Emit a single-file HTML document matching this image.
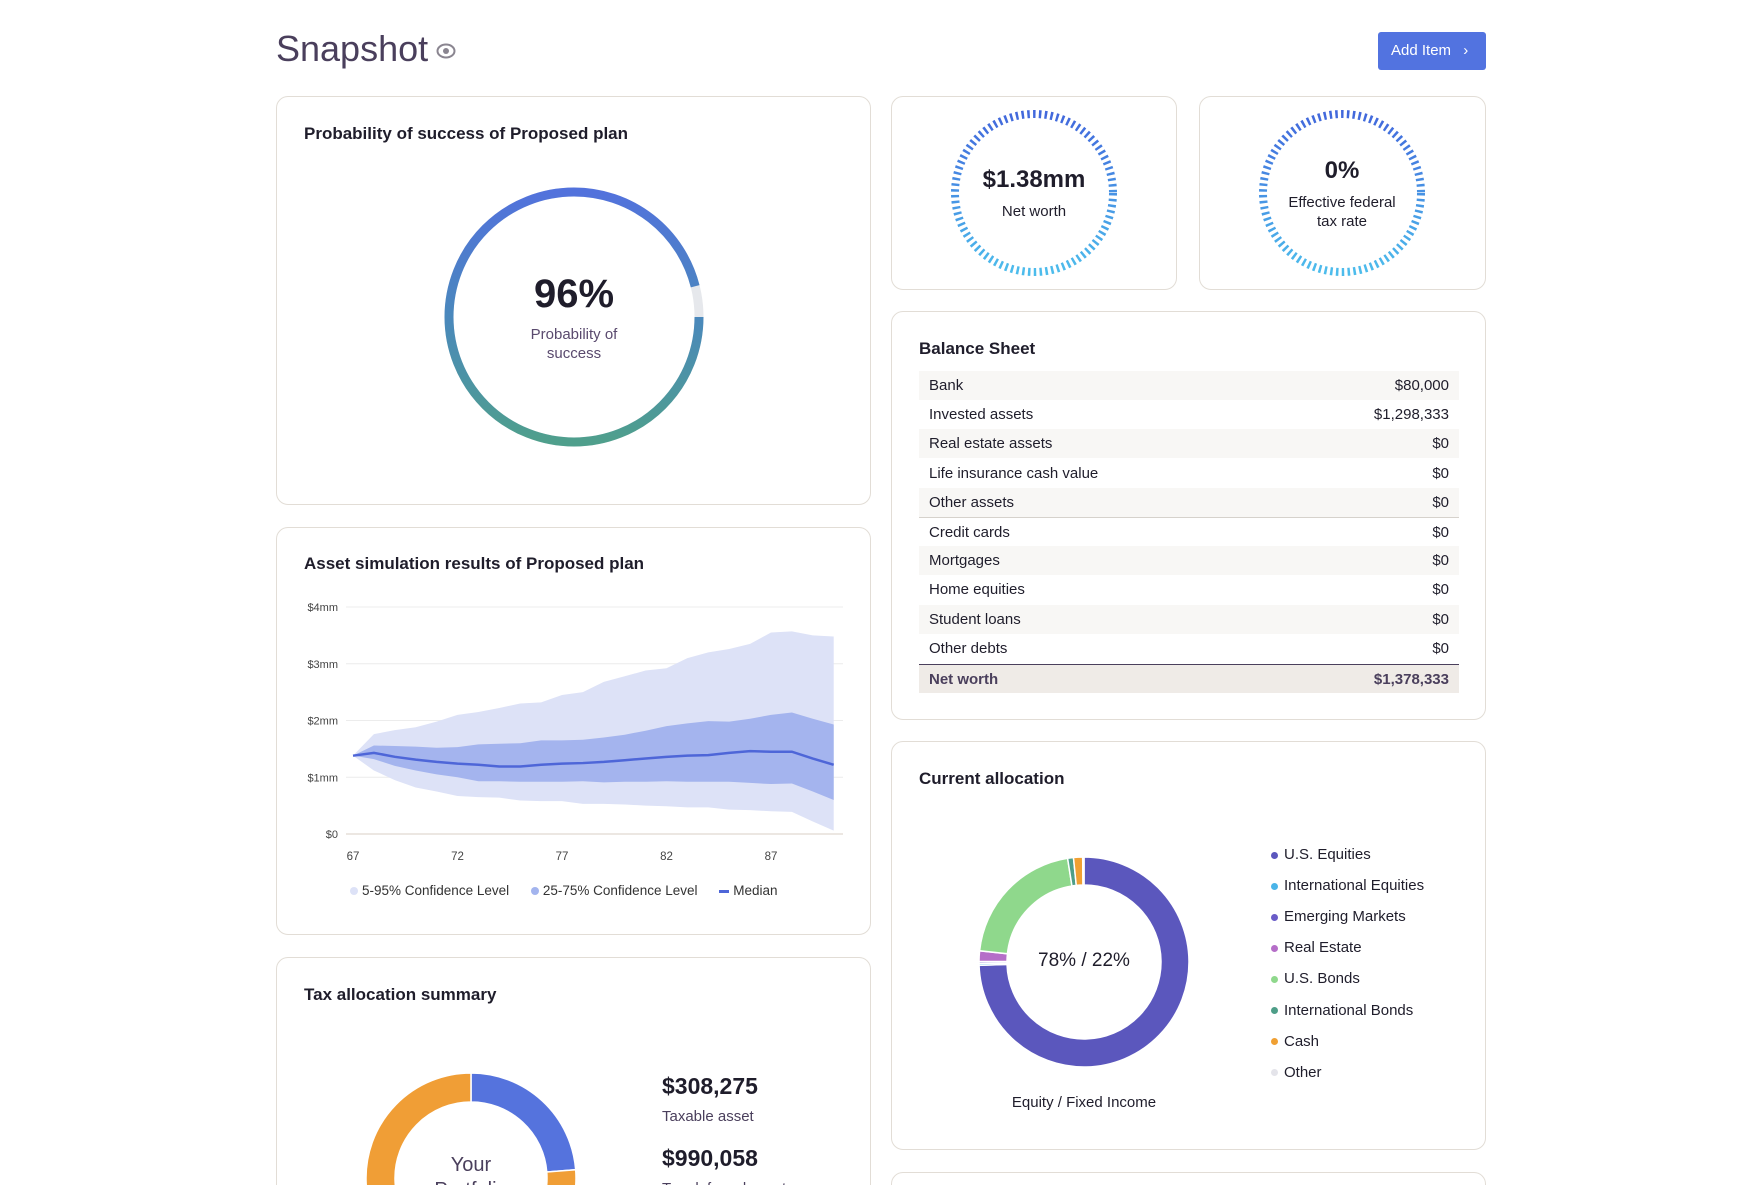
<!DOCTYPE html>
<html style="overflow:hidden;width:1759px;height:1185px"><head><meta charset="utf-8"><style>
*{box-sizing:border-box;margin:0;padding:0}
html,body{width:1759px;height:1185px;overflow:hidden;background:#fff}
body{font-family:"Liberation Sans",sans-serif;color:#1f1d2b}
#wrap{position:relative;width:1759px;height:1185px;overflow:hidden}
.abs{position:absolute}
.card{position:absolute;border:1.5px solid #e2ddd6;border-radius:12px;background:#fff}
.ct{position:absolute;font-size:17px;font-weight:bold;color:#1f1d2b}
.row{position:absolute;left:919px;width:540px;height:29px;font-size:15px;line-height:29px}
.row span.l{position:absolute;left:10px}.row span.r{position:absolute;right:10px}
.leg{position:absolute;left:1271px;font-size:15px;height:20px;line-height:20px}
.leg i{display:inline-block;width:7px;height:7px;border-radius:50%;margin-right:6px;vertical-align:middle}
</style></head><body><div id="wrap">
<div class="abs" style="left:276px;top:28px;font-size:36px;color:#4a3f5c">Snapshot</div>
<svg class="abs" style="left:436px;top:43px" width="20" height="16" viewBox="0 0 20 16"><ellipse cx="10" cy="8" rx="8.5" ry="6.5" fill="none" stroke="#8a8590" stroke-width="2"/><circle cx="10" cy="8" r="3" fill="#8a8590"/></svg>
<div class="abs" style="left:1378px;top:32px;width:108px;height:38px;background:#5273e0;border-radius:3px;color:#fff;font-size:15px;line-height:38px;padding-left:13px">Add Item <span style="margin-left:8px">›</span></div>

<div class="card" style="left:276px;top:96px;width:595px;height:409px"></div>
<div class="ct" style="left:304px;top:124px">Probability of success of Proposed plan</div>
<svg class="abs" style="left:434px;top:177px" width="280" height="280">
<defs><linearGradient id="pg" x1="0" y1="0" x2="0" y2="1"><stop offset="0" stop-color="#5272dc"/><stop offset="0.5" stop-color="#4a88bc"/><stop offset="1" stop-color="#4f9f8c"/></linearGradient></defs>
<circle cx="140" cy="140" r="125" fill="none" stroke="#e6e8ec" stroke-width="9"/>
<circle cx="140" cy="140" r="125" fill="none" stroke="url(#pg)" stroke-width="9" stroke-dasharray="754 800"/>
</svg>
<div class="abs" style="left:474px;top:272px;width:200px;text-align:center;font-size:40px;font-weight:bold">96%</div>
<div class="abs" style="left:474px;top:325px;width:200px;text-align:center;font-size:15px;line-height:19px;color:#5a4a6e">Probability of<br>success</div>

<div class="card" style="left:891px;top:96px;width:286px;height:194px"></div>
<div class="card" style="left:1199px;top:96px;width:287px;height:194px"></div>
<svg class="abs" style="left:0;top:0" width="1759" height="300">
<defs><linearGradient id="dg" x1="0" y1="0" x2="0" y2="1"><stop offset="0" stop-color="#4268dc"/><stop offset="1" stop-color="#4cbcec"/></linearGradient></defs>
<circle cx="1034" cy="193" r="79" fill="none" stroke="url(#dg)" stroke-width="8" stroke-dasharray="2.5 3.3"/>
<circle cx="1342" cy="193" r="79" fill="none" stroke="url(#dg)" stroke-width="8" stroke-dasharray="2.5 3.3"/>
</svg>
<div class="abs" style="left:934px;top:166px;width:200px;text-align:center;font-size:24px;font-weight:bold">$1.38mm</div>
<div class="abs" style="left:934px;top:203px;width:200px;text-align:center;font-size:15px">Net worth</div>
<div class="abs" style="left:1242px;top:157px;width:200px;text-align:center;font-size:24px;font-weight:bold">0%</div>
<div class="abs" style="left:1242px;top:193px;width:200px;text-align:center;font-size:15px;line-height:19px">Effective federal<br>tax rate</div>

<div class="card" style="left:891px;top:311px;width:595px;height:409px"></div>
<div class="ct" style="left:919px;top:339px">Balance Sheet</div>
<div id="bs"></div>

<div class="card" style="left:276px;top:527px;width:595px;height:408px"></div>
<div class="ct" style="left:304px;top:554px">Asset simulation results of Proposed plan</div>
<svg id="sim" class="abs" style="left:0;top:0" width="900" height="920"></svg>
<div class="abs" style="left:350px;top:883px;font-size:13.5px;color:#333;white-space:nowrap">
<span><i style="display:inline-block;width:8px;height:8px;border-radius:50%;background:#dde2f7;margin-right:4px"></i>5-95% Confidence Level</span>
<span style="margin-left:18px"><i style="display:inline-block;width:8px;height:8px;border-radius:50%;background:#a3b4ee;margin-right:4px"></i>25-75% Confidence Level</span>
<span style="margin-left:18px"><i style="display:inline-block;width:10px;height:3px;background:#4e66d8;margin-right:4px;vertical-align:middle"></i>Median</span>
</div>

<div class="card" style="left:276px;top:957px;width:595px;height:300px"></div>
<div class="ct" style="left:304px;top:985px">Tax allocation summary</div>
<svg id="tax" class="abs" style="left:0;top:0" width="900" height="1300"></svg>
<div class="abs" style="left:421px;top:1153px;width:100px;text-align:center;font-size:20px;color:#4a3f5c;line-height:25px">Your<br>Portfolio</div>
<div class="abs" style="left:662px;top:1073px;font-size:23px;font-weight:bold">$308,275</div>
<div class="abs" style="left:662px;top:1108px;font-size:15px;color:#4a3f5c">Taxable asset</div>
<div class="abs" style="left:662px;top:1145px;font-size:23px;font-weight:bold">$990,058</div>
<div class="abs" style="left:662px;top:1180px;font-size:15px;color:#4a3f5c">Tax-deferred asset</div>

<div class="card" style="left:891px;top:741px;width:595px;height:409px"></div>
<div class="ct" style="left:919px;top:769px">Current allocation</div>
<svg id="alloc" class="abs" style="left:0;top:0" width="1300" height="1185"></svg>
<div class="abs" style="left:984px;top:950px;width:200px;text-align:center;font-size:19px">78% / 22%</div>
<div class="abs" style="left:934px;top:1094px;width:300px;text-align:center;font-size:15px">Equity / Fixed Income</div>
<div id="legend"></div>
<div class="card" style="left:891px;top:1172px;width:595px;height:80px"></div>
</div>
<script>
const NS='http://www.w3.org/2000/svg';
function mk(t,a,p){const e=document.createElementNS(NS,t);for(const k in a)e.setAttribute(k,a[k]);p.appendChild(e);return e;}
const bsLabels=['Bank','Invested assets','Real estate assets','Life insurance cash value','Other assets','Credit cards','Mortgages','Home equities','Student loans','Other debts'];
const bsValues=['$80,000','$1,298,333','$0','$0','$0','$0','$0','$0','$0','$0'];
const bs=document.getElementById('bs');
bsLabels.forEach((l,i)=>{const d=document.createElement('div');d.className='row';


d.style.top=(371+i*29.2)+'px';if(i%2==0)d.style.background='#f8f7f5';if(i==5)d.style.borderTop='1px solid #d6d2cc';
d.innerHTML='<span class="l">'+l+'</span><span class="r">'+bsValues[i]+'</span>';bs.appendChild(d);});
const nw=document.createElement('div');nw.className='row';


nw.style.cssText='top:664px;background:#efebe7;border-top:1.5px solid #4a3f5c;font-weight:bold;color:#4a3f5c';
nw.innerHTML='<span class="l">Net worth</span><span class="r">$1,378,333</span>';bs.appendChild(nw);

const ages=[67,68,69,70,71,72,73,74,75,76,77,78,79,80,81,82,83,84,85,86,87,88,89,90];
const p95=[1.38,1.76,1.83,1.88,1.98,2.1,2.15,2.22,2.3,2.32,2.45,2.5,2.68,2.78,2.88,2.92,3.1,3.2,3.26,3.35,3.55,3.57,3.5,3.48];
const p5=[1.38,1.12,0.95,0.82,0.75,0.67,0.65,0.64,0.59,0.58,0.58,0.53,0.53,0.52,0.5,0.49,0.47,0.47,0.43,0.42,0.4,0.39,0.22,0.06];
const p75=[1.38,1.56,1.55,1.54,1.52,1.53,1.58,1.59,1.6,1.65,1.65,1.66,1.7,1.75,1.82,1.9,1.95,1.99,1.98,2.03,2.1,2.14,2.03,1.93];
const p25=[1.38,1.32,1.2,1.12,1.05,1.0,0.93,0.93,0.92,0.92,0.92,0.93,0.91,0.92,0.92,0.93,0.92,0.92,0.92,0.9,0.88,0.89,0.75,0.6];
const median=[1.38,1.43,1.36,1.31,1.27,1.24,1.22,1.19,1.19,1.22,1.24,1.25,1.27,1.3,1.33,1.36,1.38,1.39,1.43,1.46,1.45,1.45,1.33,1.22];
const yTicks=[0,1,2,3,4];const yTickLabels=['$0','$1mm','$2mm','$3mm','$4mm'];
const xTicks=[67,72,77,82,87];
const X=a=>353+(a-67)*20.9, Y=v=>834-v*56.75;
const sim=document.getElementById('sim');
yTicks.forEach((t,i)=>{const g=mk('line',{x1:346,x2:843,y1:Y(t),y2:Y(t),stroke:i==0?'#d8cfc4':'#ececec','stroke-width':1},sim);

const tx=mk('text',{x:338,y:Y(t)+4,'text-anchor':'end','font-size':11,fill:'#444','font-family':'Liberation Sans'},sim);tx.textContent=yTickLabels[i];
});
xTicks.forEach(t=>{const tx=mk('text',{x:X(t),y:860,'text-anchor':'middle','font-size':11.5,fill:'#444','font-family':'Liberation Sans'},sim);tx.textContent=t;
});
function band(hi,lo,fill,name){let d='M'+ages.map((a,i)=>X(a)+','+Y(hi[i])).join('L');for(let i=ages.length-1;i>=0;i--)d+='L'+X(ages[i])+','+Y(lo[i]);
const p=mk('path',{d:d+'Z',fill:fill},sim);}
band(p95,p5,'#dde2f7','band-5-95');band(p75,p25,'#a4b4ee','band-25-75');
const ml=mk('path',{d:'M'+ages.map((a,i)=>X(a)+','+Y(median[i])).join('L'),fill:'none',stroke:'#4e66d8','stroke-width':2.5},sim);


function arc(svg,cx,cy,r0,r1,a0,a1,fill,name){const rad=a=>(a-90)*Math.PI/180;const P=(r,a)=>[cx+r*Math.cos(rad(a)),cy+r*Math.sin(rad(a))];
const L=(a1-a0)>180?1:0;const [x1,y1]=P(r1,a0),[x2,y2]=P(r1,a1),[x3,y3]=P(r0,a1),[x4,y4]=P(r0,a0);
const p=mk('path',{d:`M${x1},${y1}A${r1},${r1} 0 ${L} 1 ${x2},${y2}L${x3},${y3}A${r0},${r0} 0 ${L} 0 ${x4},${y4}Z`,fill:fill,stroke:'#fff','stroke-width':1.5},svg);
}
const taxLabels=['Taxable','Tax-deferred'];const taxValues=[308275,990058];const taxColors=['#5573dd','#f09e36'];
const taxSvg=document.getElementById('tax');let tsum=taxValues.reduce((a,b)=>a+b),ta=0;
taxValues.forEach((v,i)=>{const s=v/tsum*360;arc(taxSvg,471,1178,76,105,ta,ta+s,taxColors[i],'tax-slice');ta+=s;});
const allocLabels=['U.S. Equities','International Equities','Emerging Markets','Real Estate','U.S. Bonds','International Bonds','Cash','Other'];
const allocValues=[74.5,0.3,0.3,1.6,20.8,0.9,1.4,0.2];
const allocColors=['#5b57bd','#4ab4e8','#6a5cc8','#b56ec8','#8fd88c','#4e9e88','#f0a033','#e4e4ea'];
const al=document.getElementById('alloc');let asum=allocValues.reduce((a,b)=>a+b),aa=0;
allocValues.forEach((v,i)=>{const s=v/asum*360;arc(al,1084,962,77,105,aa,aa+s,allocColors[i],'allocation-slice');aa+=s;});
const lg=document.getElementById('legend');
allocLabels.forEach((l,i)=>{const d=document.createElement('div');d.className='leg';


d.style.top=(845+i*31.1)+'px';d.innerHTML='<i style="background:'+allocColors[i]+'"></i>'+l;lg.appendChild(d);});
</script>
</body></html>
